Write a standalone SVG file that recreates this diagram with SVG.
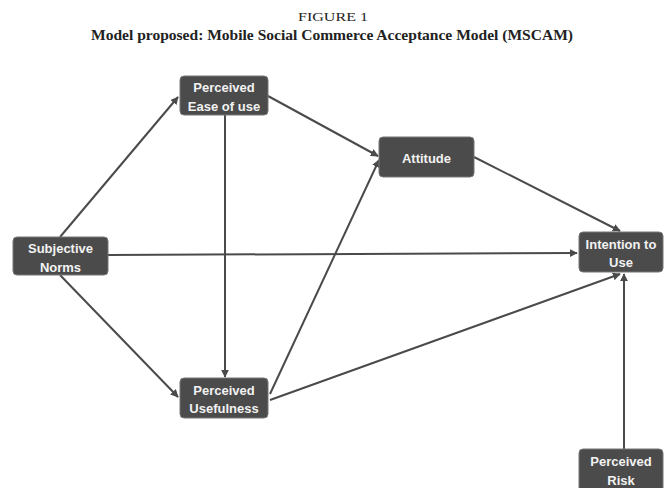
<svg xmlns="http://www.w3.org/2000/svg" width="664" height="488" viewBox="0 0 664 488">
<style>
.box{fill:#4b4b4b;stroke:#777;stroke-width:1}
.lbl{fill:#f2f2f2;font-family:"Liberation Sans",Arial,sans-serif;font-size:13px;font-weight:bold;text-anchor:middle}
.edge{stroke:#4a4a4a;stroke-width:2;fill:none;marker-end:url(#ah)}
.title{font-family:"Liberation Serif","Times New Roman",serif;text-anchor:middle;fill:#222}
</style>
<defs>
<marker id="ah" viewBox="0 0 10 10" refX="9" refY="5" markerWidth="4" markerHeight="4" orient="auto" markerUnits="strokeWidth">
<path d="M0,0 L10,5 L0,10 z" fill="#4a4a4a"/>
</marker>
</defs>
<rect width="664" height="488" fill="#fff"/>
<text class="title" x="333" y="21" font-size="13" textLength="70" lengthAdjust="spacingAndGlyphs">FIGURE 1</text>
<text class="title" x="332" y="40" font-size="14" font-weight="bold" textLength="482" lengthAdjust="spacingAndGlyphs">Model proposed: Mobile Social Commerce Acceptance Model (MSCAM)</text>
<g id="connectors">
<line class="edge" x1="60" y1="237" x2="178" y2="97"/>
<line class="edge" x1="60" y1="275" x2="178" y2="397"/>
<line class="edge" x1="108" y1="255" x2="577" y2="253"/>
<line class="edge" x1="268" y1="96" x2="378" y2="156"/>
<line class="edge" x1="225" y1="115" x2="225" y2="377"/>
<line class="edge" x1="270" y1="394" x2="379" y2="160"/>
<line class="edge" x1="270" y1="400" x2="620" y2="274"/>
<line class="edge" x1="474" y1="157" x2="620" y2="231"/>
<line class="edge" x1="624" y1="449" x2="624" y2="274"/>
</g>
<g id="peou"><rect class="box" x="180" y="76" width="88" height="39" rx="4"/><text class="lbl" x="224" y="91.5">Perceived</text><text class="lbl" x="224" y="110.5">Ease of use</text></g>
<g id="sn"><rect class="box" x="13" y="237" width="95" height="38" rx="4"/><text class="lbl" x="60.5" y="252.5">Subjective</text><text class="lbl" x="60.5" y="271.5">Norms</text></g>
<g id="attitude"><rect class="box" x="379" y="137" width="95" height="40" rx="4"/><text class="lbl" x="426.5" y="162.5">Attitude</text></g>
<g id="intention"><rect class="box" x="579" y="232" width="84" height="40" rx="4"/><text class="lbl" x="621" y="248.5">Intention to</text><text class="lbl" x="621" y="266.5">Use</text></g>
<g id="pu"><rect class="box" x="180" y="378" width="88" height="40" rx="4"/><text class="lbl" x="224" y="394.5">Perceived</text><text class="lbl" x="224" y="412.5">Usefulness</text></g>
<g id="risk"><rect class="box" x="579" y="449" width="84" height="44" rx="4"/><text class="lbl" x="621" y="465.5">Perceived</text><text class="lbl" x="621" y="484.5">Risk</text></g>
</svg>
